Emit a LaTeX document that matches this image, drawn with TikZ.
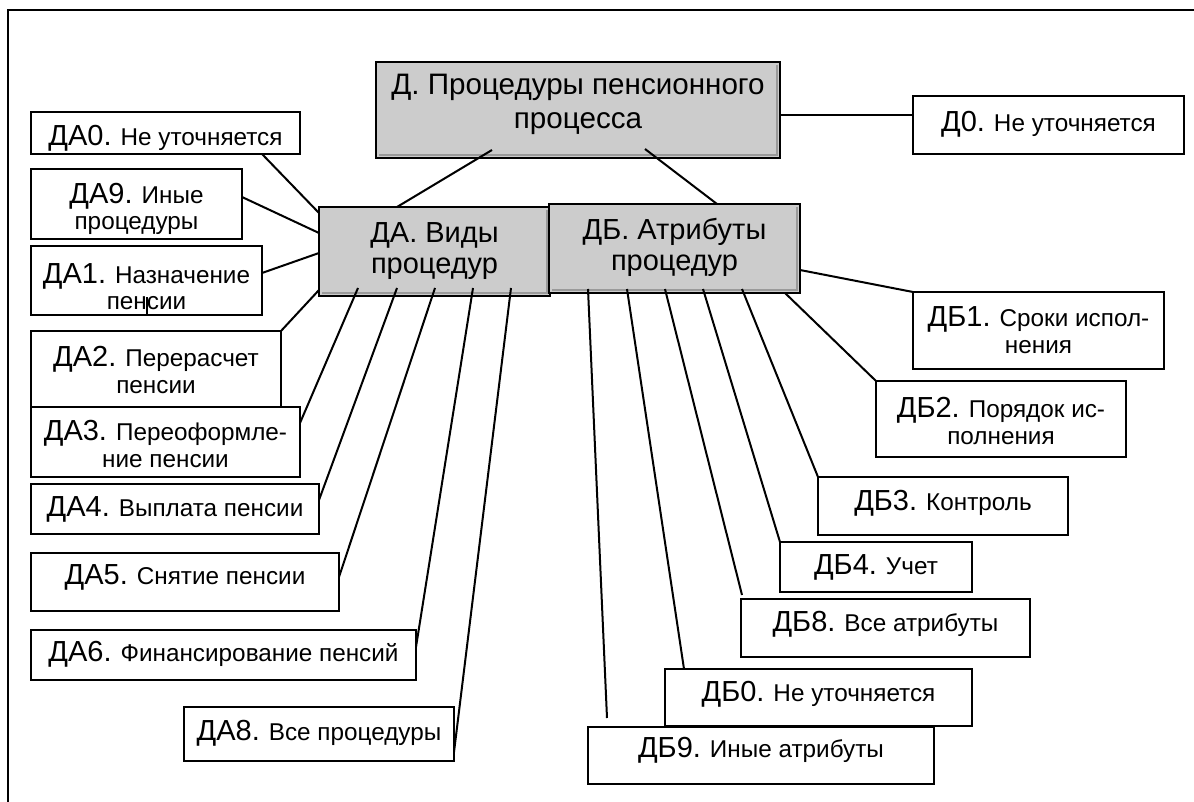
\documentclass[tikz,border=0pt]{standalone}
\usepackage{fontspec}
\setmainfont{Liberation Sans}
\definecolor{boxgray}{HTML}{CCCCCC}
\definecolor{shadowgray}{HTML}{9A9A9A}
\newcommand\kod[1]{{\fontsize{29}{31}\selectfont #1}}
\begin{document}
\begin{tikzpicture}[x=1pt,y=-1pt,
  box/.style 2 args={draw, line width=2.8pt, fill=white, inner sep=0pt, outer sep=0pt, minimum width=#1, minimum height=#2},
  gbox/.style 2 args={box={#1}{#2}, fill=boxgray},
  tx/.style={font=\fontsize{24.3}{26.5}\selectfont, align=center, inner sep=0pt},
  mtx/.style={font=\fontsize{29}{31}\selectfont, align=center, inner sep=0pt},
  conn/.style={line width=2pt},
  frameline/.style={line width=2pt},
  shadeline/.style={draw=shadowgray, line width=2pt}]
\useasboundingbox (0,0) rectangle (1194,802);
\fill[white] (0,0) rectangle (1194,802);
\draw[frameline] (1194,10) -- (8,10) -- (8,802);

% main boxes
\node[gbox={404pt}{96pt}, label={[mtx, font=\fontsize{29.6}{34}\selectfont, yshift=6pt]center:{Д. Процедуры пенсионного\\процесса}}] (D) at (578,110) {};
\draw[shadeline] ([shift={(3,-3.2)}]D.south west) -- ([shift={(-3.2,-3.2)}]D.south east) -- ([shift={(-3.2,3)}]D.north east);
\node[gbox={231pt}{89pt}, label={[mtx, yshift=0pt]center:{ДА. Виды\\процедур}}] (DA) at (434.5,251.5) {};
\draw[shadeline] ([shift={(3,-3.2)}]DA.south west) -- ([shift={(-3.2,-3.2)}]DA.south east) -- ([shift={(-3.2,3)}]DA.north east);
\node[gbox={251pt}{89pt}, label={[mtx, yshift=1pt]center:{ДБ. Атрибуты\\процедур}}] (DB) at (674.5,248.5) {};
\draw[shadeline] ([shift={(3,-3.2)}]DB.south west) -- ([shift={(-3.2,-3.2)}]DB.south east) -- ([shift={(-3.2,3)}]DB.north east);

\node[box={271pt}{58pt}, label={[tx, yshift=1pt]center:{\kod{Д0.} Не уточняется}}] (D0) at (1048.5,125) {};

% left boxes
\node[box={269pt}{42pt}, label={[tx, yshift=-5pt]center:{\kod{ДА0.} Не уточняется}}] (DA0) at (165.5,133) {};
\node[box={211pt}{70pt}, label={[tx, yshift=-5pt]center:{\kod{ДА9.} Иные\\процедуры}}] (DA9) at (136.5,204) {};
\node[box={231pt}{69pt}, label={[tx, yshift=-6pt]center:{\kod{ДА1.} Назначение\\пенсии}}] (DA1) at (146.5,280.5) {};
\node[box={250pt}{76pt}, label={[tx, yshift=-1pt]center:{\kod{ДА2.} Перерасчет\\пенсии}}] (DA2) at (156,369) {};
\node[box={269pt}{70pt}, label={[tx, yshift=-2pt]center:{\kod{ДА3.} Переоформле-\\ние пенсии}}] (DA3) at (165.5,442) {};
\node[box={288pt}{50pt}, label={[tx, yshift=0pt]center:{\kod{ДА4.} Выплата пенсии}}] (DA4) at (175,509) {};
\node[box={308pt}{58pt}, label={[tx, yshift=4.6pt]center:{\kod{ДА5.} Снятие пенсии}}] (DA5) at (185,582) {};
\node[box={385pt}{50pt}, label={[tx, yshift=0.6pt]center:{\kod{ДА6.} Финансирование пенсий}}] (DA6) at (223.5,655) {};
\node[box={270pt}{54pt}, label={[tx, yshift=0.6pt]center:{\kod{ДА8.} Все процедуры}}] (DA8) at (319,734) {};

% right boxes
\node[box={251pt}{77pt}, label={[tx, yshift=0.5pt]center:{\kod{ДБ1.} Сроки испол-\\нения}}] (DB1) at (1038.5,330.5) {};
\node[box={250pt}{76pt}, label={[tx, yshift=-2pt]center:{\kod{ДБ2.} Порядок ис-\\полнения}}] (DB2) at (1001,419) {};
\node[box={250pt}{58pt}, label={[tx, yshift=2.6pt]center:{\kod{ДБ3.} Контроль}}] (DB3) at (943,506) {};
\node[box={192pt}{50pt}, label={[tx, yshift=0pt]center:{\kod{ДБ4.} Учет}}] (DB4) at (876,567) {};
\node[box={289pt}{58pt}, label={[tx, yshift=3.6pt]center:{\kod{ДБ8.} Все атрибуты}}] (DB8) at (885.5,628) {};
\node[box={307pt}{57pt}, label={[tx, yshift=3.1pt]center:{\kod{ДБ0.} Не уточняется}}] (DB0) at (818.5,697.5) {};
\node[box={346pt}{57pt}, label={[tx, yshift=5.1pt]center:{\kod{ДБ9.} Иные атрибуты}}] (DB9) at (761,755.5) {};

% connectors
\draw[conn] ([shift={(116,-8)}]D.south west) -- ([shift={(78,0)}]DA.north west);
\draw[conn] ([shift={(269,-9)}]D.south west) -- ([shift={(168,0)}]DB.north west);
\draw[conn] ([shift={(0,-43)}]D.south east) -- ([shift={(0,19)}]D0.north west);

\draw[conn] ([shift={(231,0)}]DA0.south west) -- ([shift={(0,6)}]DA.north west);
\draw[conn] ([shift={(0,28)}]DA9.north east) -- ([shift={(0,26)}]DA.north west);
\draw[conn] ([shift={(0,27)}]DA1.north east) -- ([shift={(0,46)}]DA.north west);
\draw[conn] (DA2.north east) -- ([shift={(0,83)}]DA.north west);
\draw[conn] ([shift={(0,16)}]DA3.north east) -- ([shift={(39,-8)}]DA.south west);
\draw[conn] ([shift={(0,16)}]DA4.north east) -- ([shift={(78,-8)}]DA.south west);
\draw[conn] ([shift={(0,24)}]DA5.north east) -- ([shift={(116,-8)}]DA.south west);
\draw[conn] ([shift={(0,17)}]DA6.north east) -- ([shift={(154,-8)}]DA.south west);
\draw[conn] ([shift={(0,45)}]DA8.north east) -- ([shift={(192,-8)}]DA.south west);
\draw[conn] (DA1.south) -- ++(0,-18);

\draw[conn] ([shift={(0,66)}]DB.north east) -- (DB1.north west);
\draw[conn] ([shift={(-15,0)}]DB.south east) -- (DB2.north west);
\draw[conn] ([shift={(193,-4)}]DB.south west) -- (DB3.north west);
\draw[conn] ([shift={(154,-4)}]DB.south west) -- (DB4.north west);
\draw[conn] ([shift={(116,-4)}]DB.south west) -- ([shift={(1,-4)}]DB8.north west);
\draw[conn] ([shift={(78,-4)}]DB.south west) -- ([shift={(19,0)}]DB0.north west);
\draw[conn] ([shift={(39,-4)}]DB.south west) -- ([shift={(19,-9)}]DB9.north west);
\end{tikzpicture}
\end{document}
